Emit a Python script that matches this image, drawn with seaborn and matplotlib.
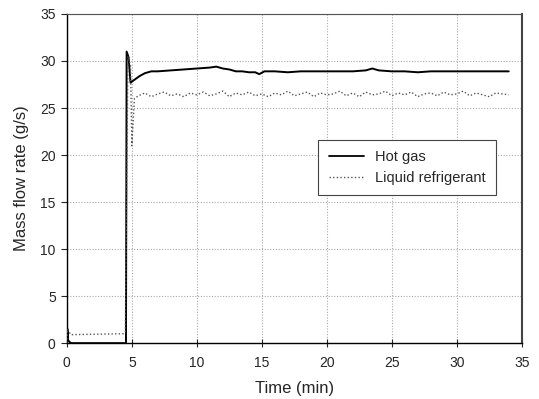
import matplotlib
matplotlib.use("Agg")
import matplotlib.pyplot as plt
import seaborn as sns
import pandas as pd
from matplotlib.lines import Line2D

# Hot gas mass flow (g/s) vs time (min)
hot_time = [0, 0.05, 0.1, 0.3, 4.4, 4.55, 4.6, 4.75, 4.9, 5.2, 5.6, 6.0, 6.5, 7.0,
            8.0, 9.0, 10.0, 11.0, 11.5, 12.0, 12.5, 13.0, 13.5, 14.0, 14.5, 14.8,
            15.2, 16.0, 17.0, 18.0, 19.0, 20.0, 21.0, 22.0, 23.0, 23.5, 24.0, 25.0,
            26.0, 27.0, 28.0, 29.0, 30.0, 31.0, 32.0, 33.0, 34.0]
hot_flow = [0, 1.5, 0.3, 0, 0, 0, 31.0, 30.4, 27.7, 28.0, 28.4, 28.7, 28.9, 28.9,
            29.0, 29.1, 29.2, 29.3, 29.4, 29.2, 29.1, 28.9, 28.9, 28.8, 28.8, 28.6,
            28.9, 28.9, 28.8, 28.9, 28.9, 28.9, 28.9, 28.9, 29.0, 29.2, 29.0, 28.9,
            28.9, 28.8, 28.9, 28.9, 28.9, 28.9, 28.9, 28.9, 28.9]

# Liquid refrigerant mass flow (g/s) vs time (min)
liq_time = [0, 0.05, 0.3, 4.4, 4.5, 4.7, 4.9, 5.0, 5.2,
            5.5, 6.0, 6.5, 7.0, 7.5, 8.0, 8.5, 9.0, 9.5, 10.0,
            10.5, 11.0, 11.5, 12.0, 12.5, 13.0, 13.5, 14.0, 14.5, 15.0,
            15.5, 16.0, 16.5, 17.0, 17.5, 18.0, 18.5, 19.0, 19.5, 20.0,
            20.5, 21.0, 21.5, 22.0, 22.5, 23.0, 23.5, 24.0, 24.5, 25.0,
            25.5, 26.0, 26.5, 27.0, 27.5, 28.0, 28.5, 29.0, 29.5, 30.0,
            30.5, 31.0, 31.5, 32.0, 32.5, 33.0, 33.5, 34.0]
liq_flow = [0, 1.5, 0.9, 1.0, 1.2, 30.5, 29.5, 21.0, 26.0,
            26.3, 26.6, 26.2, 26.5, 26.7, 26.3, 26.5, 26.2, 26.6, 26.4,
            26.7, 26.3, 26.5, 26.8, 26.2, 26.6, 26.4, 26.7, 26.3, 26.5,
            26.2, 26.6, 26.4, 26.8, 26.3, 26.5, 26.7, 26.2, 26.6, 26.4,
            26.5, 26.8, 26.3, 26.6, 26.2, 26.7, 26.4, 26.5, 26.8, 26.3,
            26.6, 26.4, 26.7, 26.2, 26.5, 26.6, 26.3, 26.7, 26.4, 26.5,
            26.8, 26.3, 26.6, 26.4, 26.2, 26.6, 26.5, 26.4]

x_ticks = [0, 5, 10, 15, 20, 25, 30, 35]
y_ticks = [0, 5, 10, 15, 20, 25, 30, 35]

sns.set_style("white")
plt.rcParams["font.family"] = ["Liberation Sans", "DejaVu Sans"]

fig = plt.figure(figsize=(5.39, 3.99), dpi=100)
ax = fig.add_axes([0.124, 0.140, 0.844, 0.825])

hot_df = pd.DataFrame({"t": hot_time, "m": hot_flow})
liq_df = pd.DataFrame({"t": liq_time, "m": liq_flow})

sns.lineplot(data=hot_df, x="t", y="m", ax=ax, color="black", linewidth=1.4,
             sort=False, estimator=None, zorder=3)
sns.lineplot(data=liq_df, x="t", y="m", ax=ax, color="#555555", linewidth=1.0,
             linestyle=(0, (1, 1.6)), sort=False, estimator=None, zorder=3)

ax.set_xlim(0, 35)
ax.set_ylim(0, 35)
ax.set_xticks(x_ticks)
ax.set_yticks(y_ticks)
ax.grid(True, color="#aaaaaa", linestyle=(0, (1, 1.5)), linewidth=0.8)
ax.set_axisbelow(True)

ax.tick_params(axis="x", direction="inout", length=6, width=0.8, labelsize=10, pad=6)
ax.tick_params(axis="y", direction="out", length=4, width=0.8, labelsize=10, pad=4)
ax.xaxis.set_ticks_position("bottom")
ax.yaxis.set_ticks_position("left")

ax.spines["left"].set_color("black")
ax.spines["bottom"].set_color("black")
ax.spines["left"].set_linewidth(1.0)
ax.spines["bottom"].set_linewidth(1.0)
ax.spines["top"].set_color("#555555")
ax.spines["top"].set_linestyle((0, (1, 0.6)))
ax.spines["right"].set_color("#444444")
ax.spines["right"].set_linewidth(1.5)

ax.set_xlabel("Time (min)", fontsize=12, labelpad=8)
ax.set_ylabel("Mass flow rate (g/s)", fontsize=12, labelpad=8)

handles = [Line2D([], [], color="black", linewidth=1.3),
           Line2D([], [], color="#555555", linewidth=1.0, linestyle=(0, (1, 1.6)))]
leg = ax.legend(handles, ["Hot gas", "Liquid refrigerant"], loc="lower left",
                bbox_to_anchor=(0.537, 0.428), fontsize=10.5, frameon=True,
                fancybox=False, framealpha=1, edgecolor="#444444",
                handlelength=2.4, borderpad=0.7, labelspacing=0.45,
                handletextpad=0.8)
leg.get_frame().set_linewidth(0.8)

fig.savefig("out.png", dpi=100)
